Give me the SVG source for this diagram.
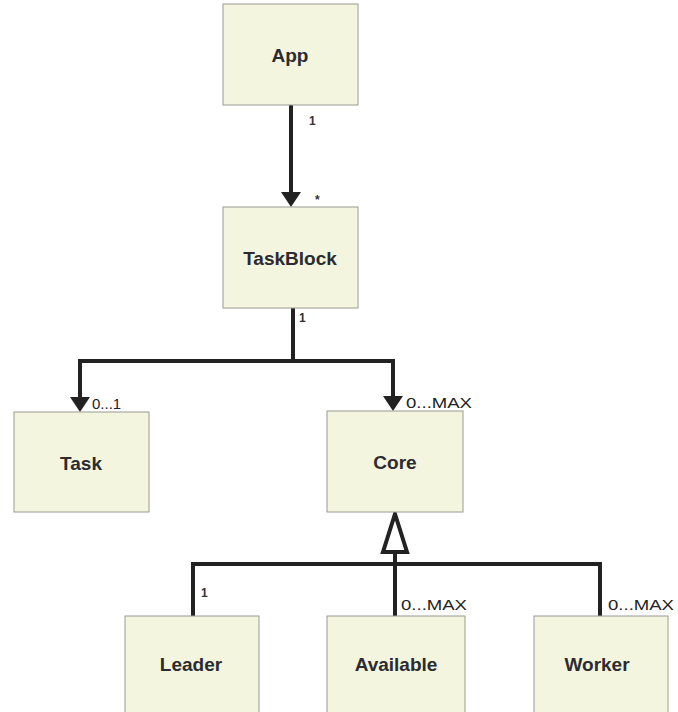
<svg xmlns="http://www.w3.org/2000/svg" width="678" height="712" viewBox="0 0 678 712">
<style>
.box{fill:#f3f5de;stroke:#9a9a92;stroke-width:1}
.name{font-family:"Liberation Sans",Arial,sans-serif;font-size:19px;font-weight:bold;fill:#2b2b30;text-anchor:middle}
.lbl{font-family:"Liberation Sans",Arial,sans-serif;font-size:15px;fill:#222}
.one{font-family:"Liberation Sans",Arial,sans-serif;font-size:12px;font-weight:bold;fill:#333}
.ln{fill:none;stroke:#222;stroke-width:4}
</style>
<g id="connectors">
<path class="ln" d="M291,105 L291,193"/>
<path d="M281,192 L301,192 L291,207 Z" fill="#222"/>
<path class="ln" d="M293,308 L293,361 M80,361 L393,361 M80,359 L80,398 M393,359 L393,397"/>
<path d="M70,397 L90,397 L80,412 Z" fill="#222"/>
<path d="M383,396 L403,396 L393,411 Z" fill="#222"/>
<path class="ln" d="M193,616 L193,564 L600,564 L600,616 M395,616 L395,553"/>
<path d="M395,514 L407,552 L383,552 Z" fill="#fff" stroke="#222" stroke-width="4" stroke-linejoin="miter"/>
</g>
<g id="App"><rect class="box" x="223" y="4" width="135" height="101"/><text class="name" x="290" y="62">App</text></g>
<g id="TaskBlock"><rect class="box" x="223" y="207" width="135" height="101"/><text class="name" x="290" y="265">TaskBlock</text></g>
<g id="Task"><rect class="box" x="14" y="412" width="135" height="100"/><text class="name" x="81" y="470">Task</text></g>
<g id="Core"><rect class="box" x="327" y="411" width="136" height="101"/><text class="name" x="395" y="469">Core</text></g>
<g id="Leader"><rect class="box" x="125" y="616" width="134" height="100"/><text class="name" x="191" y="671">Leader</text></g>
<g id="Available"><rect class="box" x="327" y="616" width="138" height="100"/><text class="name" x="396" y="671">Available</text></g>
<g id="Worker"><rect class="box" x="534" y="616" width="134" height="100"/><text class="name" x="597" y="671">Worker</text></g>
<g id="labels">
<text class="one" x="309" y="125">1</text>
<text class="one" x="315" y="204">*</text>
<text class="one" x="299" y="322">1</text>
<text class="lbl" x="92" y="409">0...1</text>
<text class="lbl" x="406" y="408" textLength="66" lengthAdjust="spacingAndGlyphs">0...MAX</text>
<text class="one" x="201" y="597">1</text>
<text class="lbl" x="401" y="610" textLength="66" lengthAdjust="spacingAndGlyphs">0...MAX</text>
<text class="lbl" x="608" y="610" textLength="66" lengthAdjust="spacingAndGlyphs">0...MAX</text>
</g>
</svg>
